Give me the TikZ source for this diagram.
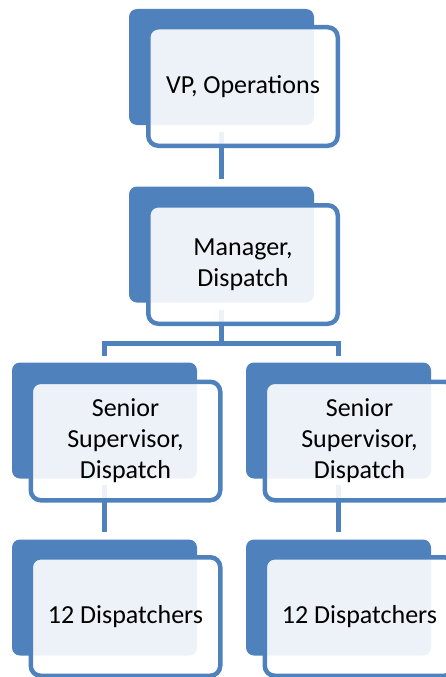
\documentclass[tikz,border=0pt]{standalone}
\usepackage{fontspec}
\setmainfont{Carlito}
\definecolor{orgblue}{HTML}{4F81BD}
\begin{document}
\begin{tikzpicture}[x=1pt,y=-1pt,
  backbox/.style={fill=orgblue, rounded corners=8pt, inner sep=0pt,
    minimum width=185pt, minimum height=116pt},
  frontbox/.style={draw=orgblue, line width=4.5pt, fill=white, fill opacity=0.9,
    text opacity=1, rounded corners=10pt, inner sep=0pt,
    minimum width=189.5pt, minimum height=118.5pt, align=center,
    font=\fontsize{26pt}{31pt}\selectfont},
  conn/.style={draw=orgblue, line width=5pt, line join=miter}]
\clip (0,0) rectangle (446,677);
% back boxes
\node[backbox] (vpb) at (221.5,67) {};
\node[backbox] (mgb) at (221.5,244.5) {};
\node[backbox] (s1b) at (104.5,420.5) {};
\node[backbox] (s2b) at (338.5,420.5) {};
\node[backbox] (d1b) at (104.5,597.5) {};
\node[backbox] (d2b) at (338.5,597.5) {};
% connectors
\coordinate (bus) at (221.5,343);
\draw[conn, shorten <=7pt, shorten >=7pt] (vpb.south) -- (mgb.north);
\draw[conn, shorten <=7pt] (mgb.south) -- (bus);
\draw[conn, shorten >=6pt] (bus) -| (s1b.north);
\draw[conn, shorten >=6pt] (bus) -| (s2b.north);
\draw[conn, shorten <=6pt, shorten >=7pt] (s1b.south) -- (d1b.north);
\draw[conn, shorten <=6pt, shorten >=7pt] (s2b.south) -- (d2b.north);
% front boxes
\node[frontbox] (vp) at (243,86.5) {VP, Operations};
\node[frontbox] (mg) at (243,264.5) {Manager,\\Dispatch};
\node[frontbox] (s1) at (125.5,441) {Senior\\Supervisor,\\Dispatch};
\node[frontbox] (s2) at (359.5,441) {Senior\\Supervisor,\\Dispatch};
\node[frontbox] (d1) at (125.5,616.5) {12 Dispatchers};
\node[frontbox] (d2) at (359.5,616.5) {12 Dispatchers};
\end{tikzpicture}
\end{document}
